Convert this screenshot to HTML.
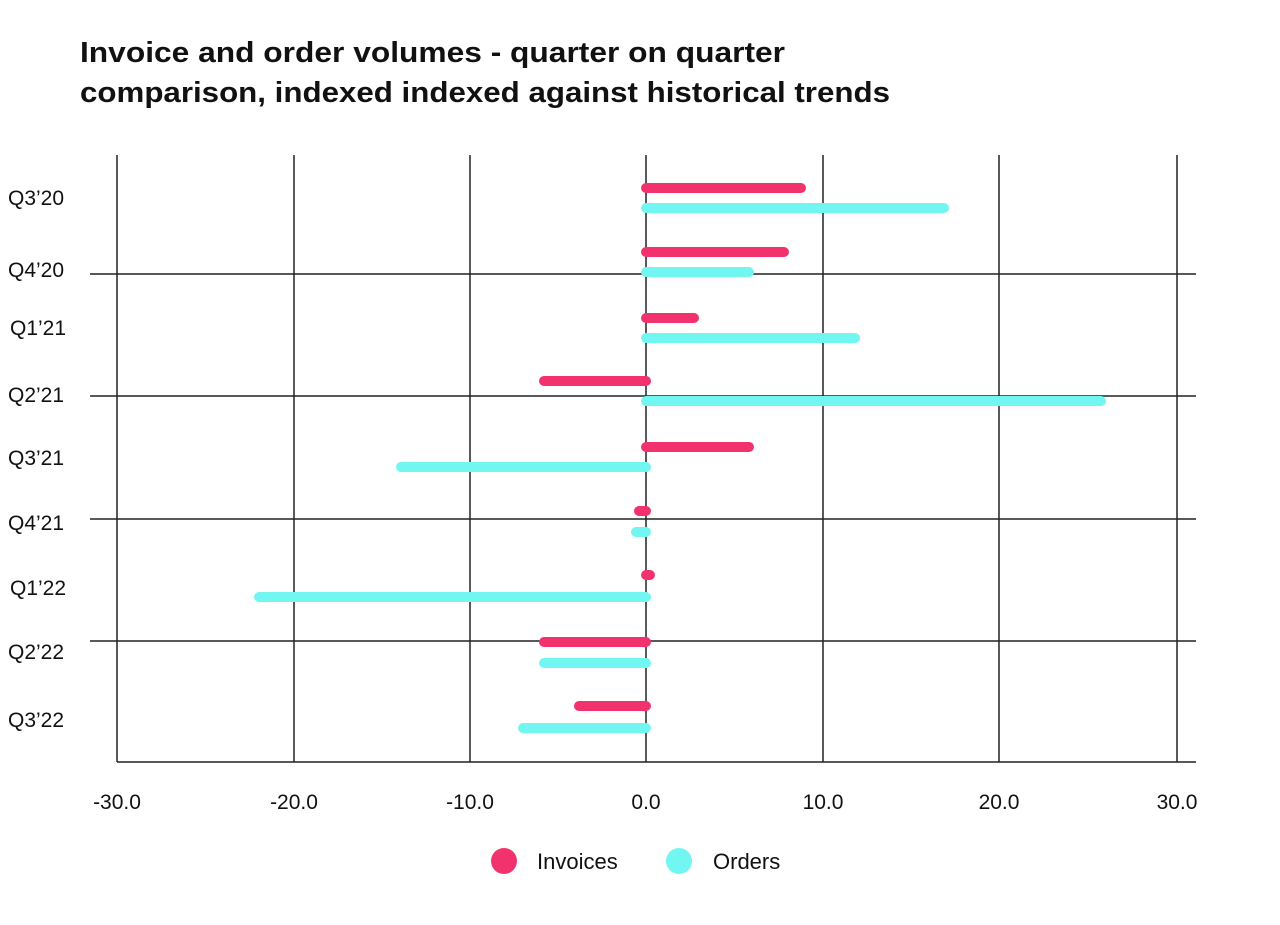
<!DOCTYPE html>
<html><head><meta charset="utf-8"><style>
body{margin:0;background:#fff;}
svg{display:block}
text{font-family:"Liberation Sans",sans-serif;fill:#111}
</style></head><body>
<svg width="1280" height="925" viewBox="0 0 1280 925">
<text x="80" y="62" font-size="29" font-weight="bold" fill="#1a1a1a" textLength="705" lengthAdjust="spacingAndGlyphs">Invoice and order volumes - quarter on quarter</text>
<text x="80" y="102" font-size="29" font-weight="bold" fill="#1a1a1a" textLength="810" lengthAdjust="spacingAndGlyphs">comparison, indexed indexed against historical trends</text>
<g stroke="#222" stroke-width="1.5">
<line x1="117" y1="155" x2="117" y2="762"/>
<line x1="294" y1="155" x2="294" y2="762"/>
<line x1="470" y1="155" x2="470" y2="762"/>
<line x1="646" y1="155" x2="646" y2="762"/>
<line x1="823" y1="155" x2="823" y2="762"/>
<line x1="999" y1="155" x2="999" y2="762"/>
<line x1="1177" y1="155" x2="1177" y2="762"/>
<line x1="90" y1="274" x2="1196" y2="274"/>
<line x1="90" y1="396" x2="1196" y2="396"/>
<line x1="90" y1="519" x2="1196" y2="519"/>
<line x1="90" y1="641" x2="1196" y2="641"/>
<line x1="117" y1="762" x2="1196" y2="762"/>
</g>
<g stroke-width="10" stroke-linecap="round">
<line x1="646" y1="188" x2="801" y2="188" stroke="#f2326c"/>
<line x1="646" y1="208" x2="944" y2="208" stroke="#72f6f2"/>
<line x1="646" y1="252" x2="784" y2="252" stroke="#f2326c"/>
<line x1="646" y1="272" x2="749" y2="272" stroke="#72f6f2"/>
<line x1="646" y1="318" x2="694" y2="318" stroke="#f2326c"/>
<line x1="646" y1="338" x2="855" y2="338" stroke="#72f6f2"/>
<line x1="646" y1="381" x2="544" y2="381" stroke="#f2326c"/>
<line x1="646" y1="401" x2="1101" y2="401" stroke="#72f6f2"/>
<line x1="646" y1="447" x2="749" y2="447" stroke="#f2326c"/>
<line x1="646" y1="467" x2="401" y2="467" stroke="#72f6f2"/>
<line x1="646" y1="511" x2="639" y2="511" stroke="#f2326c"/>
<line x1="646" y1="532" x2="636" y2="532" stroke="#72f6f2"/>
<line x1="646" y1="575" x2="650" y2="575" stroke="#f2326c"/>
<line x1="646" y1="597" x2="259" y2="597" stroke="#72f6f2"/>
<line x1="646" y1="642" x2="544" y2="642" stroke="#f2326c"/>
<line x1="646" y1="663" x2="544" y2="663" stroke="#72f6f2"/>
<line x1="646" y1="706" x2="579" y2="706" stroke="#f2326c"/>
<line x1="646" y1="728" x2="523" y2="728" stroke="#72f6f2"/>
</g>
<g font-size="21">
<text x="8" y="205">Q3’20</text>
<text x="8" y="277">Q4’20</text>
<text x="10" y="335">Q1’21</text>
<text x="8" y="402">Q2’21</text>
<text x="8" y="465">Q3’21</text>
<text x="8" y="530">Q4’21</text>
<text x="10" y="595">Q1’22</text>
<text x="8" y="659">Q2’22</text>
<text x="8" y="727">Q3’22</text>
</g>
<g font-size="21" text-anchor="middle">
<text x="117" y="809">-30.0</text>
<text x="294" y="809">-20.0</text>
<text x="470" y="809">-10.0</text>
<text x="646" y="809">0.0</text>
<text x="823" y="809">10.0</text>
<text x="999" y="809">20.0</text>
<text x="1177" y="809">30.0</text>
</g>
<circle cx="504" cy="861" r="13" fill="#f2326c"/>
<text x="537" y="869" font-size="22">Invoices</text>
<circle cx="679" cy="861" r="13" fill="#72f6f2"/>
<text x="713" y="869" font-size="22">Orders</text>
</svg>
</body></html>
